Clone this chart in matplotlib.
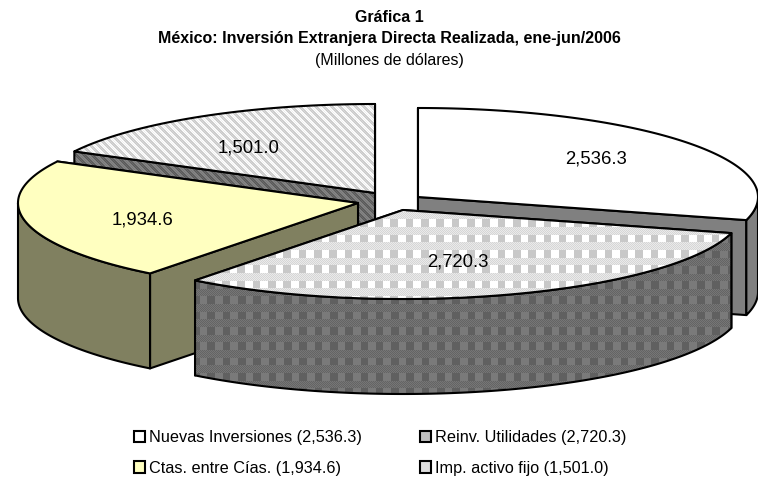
import numpy as np
import matplotlib
matplotlib.use("Agg")
import matplotlib.pyplot as plt
from matplotlib.patches import Polygon, Patch

plt.rcParams['font.family'] = ['Liberation Sans', 'DejaVu Sans']

# ---- data ----
categories = ['Nuevas Inversiones', 'Reinv. Utilidades', 'Ctas. entre Cías.', 'Imp. activo fijo']
values = [2536.3, 2720.3, 1934.6, 1501.0]
title_lines = ['Gráfica 1', 'México: Inversión Extranjera Directa Realizada, ene-jun/2006']
subtitle = '(Millones de dólares)'

# ---- layout and style (pixels) ----
W, H = 758, 479
RX, RY, DEPTH = 340, 89, 95
apex = [(418, 197), (403, 210), (358, 203), (375, 193)]
label_pos = [(596, 159), (458, 262), (142.5, 220), (249, 148)]
draw_order = [3, 0, 2, 1]
LW = 1.5
TITLE_X = 389

yy, xx = np.mgrid[0:H, 0:W]


def plaid(x0, y0, sq_a, sq_b, d1, d2, period=15.3):
    row = ((yy - y0) % period) < period / 2
    col = ((xx - x0) % period) < period / 2
    img = np.where((xx + yy) % 2 == 0, d1, d2).astype(float)
    img[row & col] = sq_a
    img[row & ~col] = sq_b
    return np.repeat(img[:, :, None], 3, axis=2) / 255


def stripes(a1, a2, b1, b2, period=8.0):
    s = ((xx - yy) % period) < period / 2
    chk = (xx + yy) % 2 == 0
    img = np.where(s, np.where(chk, a1, a2), np.where(chk, b1, b2)).astype(float)
    return np.repeat(img[:, :, None], 3, axis=2) / 255


top_fill = ['#FFFFFF', plaid(390, 219, 0xC8, 0xFF, 0xD6, 0xEA), '#FFFFC0', stripes(0xC8, 0xD8, 0xFF, 0xEE)]
side_fill = ['#808080', plaid(207, 296, 0x60, 0x7A, 0x64, 0x76), '#808060', stripes(0x58, 0x6A, 0x86, 0x78)]
legend_fill = ['#FFFFFF', '#C0C0C0', '#FFFFC0', '#DCDCDC']

fig = plt.figure(figsize=(W / 100, H / 100), dpi=100, facecolor='white')
ax = fig.add_axes([0, 0, 1, 1])
ax.axis('off')


def point(c, deg, dy=0):
    t = np.radians(deg)
    return c[0] + RX * np.sin(t), c[1] - RY * np.cos(t) + dy


def arc(c, a, b, dy=0):
    th = np.linspace(a, b, 200)
    return [point(c, d, dy) for d in th]


def face(pts, fill, z):
    if isinstance(fill, str):
        ax.add_patch(Polygon(pts, closed=True, fc=fill, ec='none', zorder=z))
    else:
        clip = Polygon(pts, closed=True, fc='none', ec='none', transform=ax.transData)
        ax.add_patch(clip)
        im = ax.imshow(fill, extent=(0, W, H, 0), origin='upper', aspect='auto',
                       interpolation='nearest', zorder=z)
        im.set_clip_path(clip)
    ax.add_patch(Polygon(pts, closed=True, fc='none', ec='black', lw=LW, joinstyle='round', zorder=z + 0.1))


total = sum(values)
edges = np.concatenate([[0], np.cumsum(values)]) / total * 360

z = 1
for i in draw_order:
    a, b, c = edges[i], edges[i + 1], apex[i]
    # radial cut faces: the one further back first
    for ang in sorted((a, b), key=lambda d: -np.cos(np.radians(d))):
        p = point(c, ang)
        pts = [c, p, (p[0], p[1] + DEPTH), (c[0], c[1] + DEPTH)]
        face(pts, side_fill[i], z)
        z += 1
    lo, hi = max(a, 90), min(b, 270)
    if hi > lo:
        face(arc(c, lo, hi) + arc(c, hi, lo, DEPTH), side_fill[i], z)
        z += 1
    face([c] + arc(c, a, b), top_fill[i], z)
    z += 1

for i in range(4):
    x, y = label_pos[i]
    ax.text(x, y, f'{values[i]:,.1f}', ha='center', va='center', fontsize=13.3, color='black', zorder=100)

ax.text(TITLE_X, 17, title_lines[0], ha='center', va='center', fontsize=11.55, fontweight='bold')
ax.text(TITLE_X, 38, title_lines[1], ha='center', va='center', fontsize=11.55, fontweight='bold')
ax.text(TITLE_X, 60, subtitle, ha='center', va='center', fontsize=11.55)

handles = [Patch(fc=legend_fill[i], ec='black', lw=1.5) for i in range(4)]
labels = [f'{categories[i]} ({values[i]:,.1f})' for i in range(4)]
# two columns, filled row by row
order = [0, 2, 1, 3]
ax.legend([handles[i] for i in order], [labels[i] for i in order], ncol=2, frameon=False,
          loc='center left', bbox_to_anchor=(134 / W, 1 - 453 / H), fontsize=11.7,
          handlelength=0.68, handleheight=0.68, handletextpad=0.25, columnspacing=3.55, labelspacing=0.95,
          borderpad=0, borderaxespad=0)

ax.set_xlim(0, W)
ax.set_ylim(H, 0)
fig.savefig('out.png', dpi=100, facecolor='white')
